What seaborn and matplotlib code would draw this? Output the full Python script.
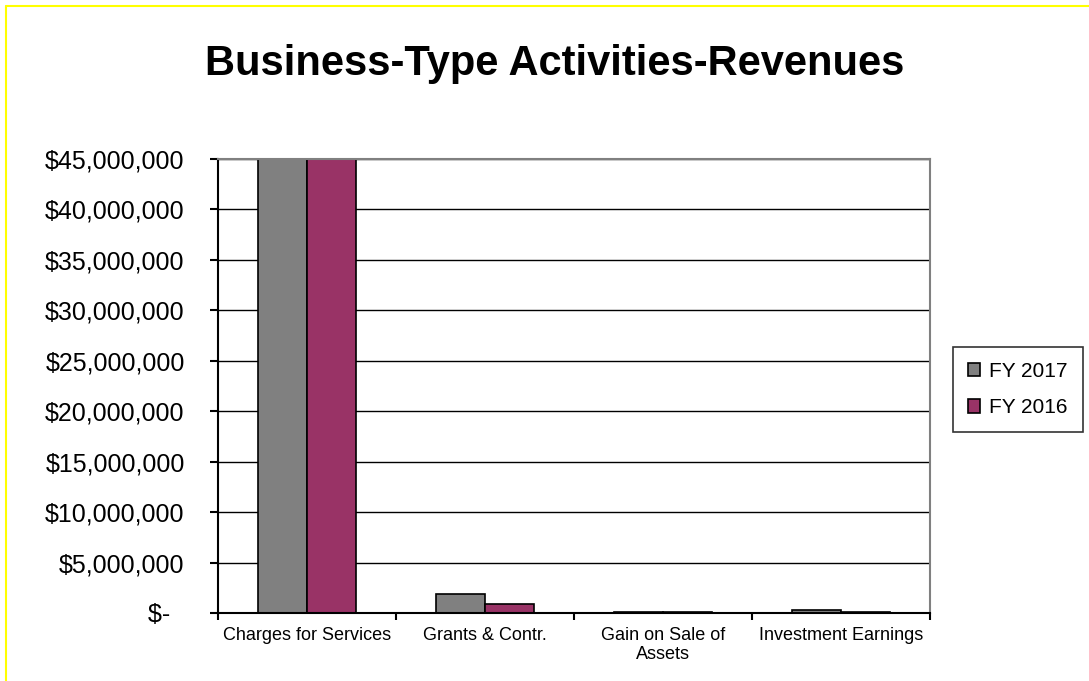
import pandas as pd
import matplotlib
matplotlib.use("Agg")
import matplotlib.pyplot as plt
import seaborn as sns
from matplotlib.lines import Line2D
from matplotlib.ticker import FuncFormatter

# values (first category runs off the top of the axis)
categories = ["Charges for Services", "Grants & Contr.", "Gain on Sale of\nAssets", "Investment Earnings"]
fy2017 = [50_200_000, 1_900_000, 130_000, 330_000]
fy2016 = [48_900_000, 900_000, 120_000, 130_000]
years = ["FY 2017", "FY 2016"]
colors = ["#808080", "#993366"]
yticks = list(range(0, 45_000_001, 5_000_000))

df = pd.DataFrame({
    "category": categories * 2,
    "year": [years[0]] * 4 + [years[1]] * 4,
    "value": fy2017 + fy2016,
})

sns.set_style("white")
plt.rcParams["font.family"] = ["Liberation Sans", "DejaVu Sans"]
plt.rcParams["text.color"] = "black"
plt.rcParams["xtick.color"] = "black"
plt.rcParams["ytick.color"] = "black"
plt.rcParams["xtick.labelcolor"] = "black"
plt.rcParams["ytick.labelcolor"] = "black"

fig = plt.figure(figsize=(10.89, 6.81), dpi=100)
ax = fig.add_axes([218 / 1089, 1 - 613 / 681, (930 - 218) / 1089, (613 - 159) / 681])

sns.barplot(data=df, x="category", y="value", hue="year", order=categories,
            hue_order=years, palette=colors, width=0.556, gap=0,
            edgecolor="black", linewidth=1.2, saturation=1, ax=ax, legend=True)

ax.set_ylim(0, 45_000_000)
ax.set_xlim(-0.5, len(categories) - 0.5)
ax.set_yticks(yticks)
# accounting style: zero shown as "$-" with trailing padding
ax.yaxis.set_major_formatter(FuncFormatter(lambda v, p: "$-  " if v == 0 else f"${v:,.0f}"))
ax.set_axisbelow(True)
ax.grid(axis="y", color="black", linewidth=1)
ax.set_xlabel("")
ax.set_ylabel("")

# ticks between categories, labels centred under groups
ax.set_xticks(range(len(categories)))
ax.set_xticklabels(categories, fontsize=13)
ax.tick_params(axis="x", which="major", bottom=False, length=0, pad=10)
ax.set_xticks([i + 0.5 for i in range(-1, len(categories))], minor=True)
ax.tick_params(axis="x", which="minor", bottom=True, length=5, width=1.5,
               color="black", direction="out")
ax.tick_params(axis="y", left=True, labelsize=18, length=6, width=1.5,
               color="black", direction="out", pad=18)

for side in ["left", "bottom"]:
    ax.spines[side].set_color("black")
    ax.spines[side].set_linewidth(1.5)
for side in ["top", "right"]:
    ax.spines[side].set_color("#808080")
    ax.spines[side].set_linewidth(1.5)

leg = ax.legend(loc="upper left", bbox_to_anchor=(953 / 1089, 1 - 347 / 681),
                bbox_transform=fig.transFigure, fontsize=15, frameon=True,
                fancybox=False, edgecolor="black", handlelength=0.6,
                handleheight=0.6, handletextpad=0.45, borderpad=0.7,
                labelspacing=0.85, borderaxespad=0)
leg.get_frame().set_linewidth(1.2)

fig.text(555 / 1089, 1 - 64 / 681, "Business-Type Activities-Revenues",
         ha="center", va="center", fontsize=30, fontweight="bold")

# yellow frame (only top and left edges visible in the crop)
fig.add_artist(Line2D([6 / 1089, 6 / 1089], [0, 1 - 6 / 681], color="yellow",
                      linewidth=1.5, transform=fig.transFigure))
fig.add_artist(Line2D([6 / 1089, 1], [1 - 6 / 681, 1 - 6 / 681], color="yellow",
                      linewidth=1.5, transform=fig.transFigure))

fig.savefig("out.png", dpi=100)
